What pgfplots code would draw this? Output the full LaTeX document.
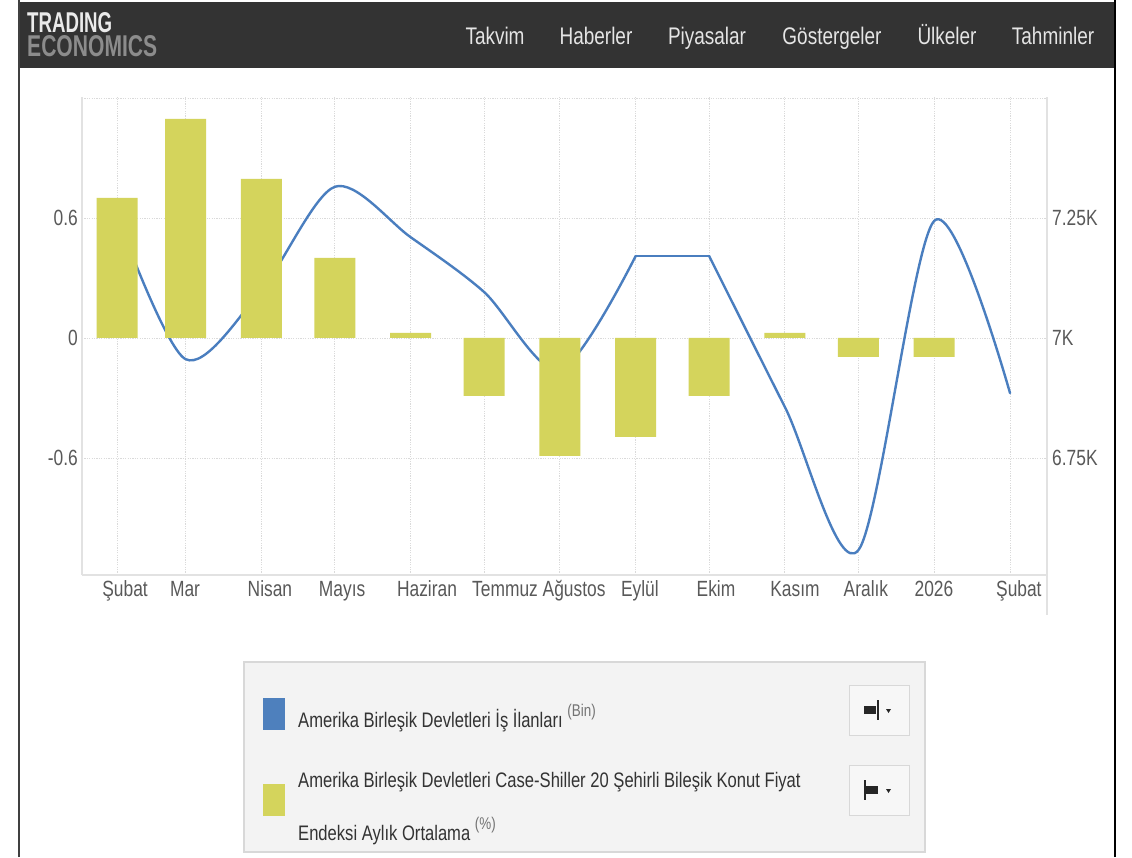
\documentclass[border=0pt]{standalone}
\usepackage{fontspec}
\setmainfont{Liberation Sans}[FakeStretch=0.79]
\usepackage{graphicx}
\usepackage{pgfplots}
\pgfplotsset{compat=1.18}
\usepackage{pgfplotstable}

\definecolor{hdr}{HTML}{333333}
\definecolor{barc}{HTML}{D4D45C}
\definecolor{linec}{HTML}{4A7EBF}
\definecolor{legblue}{HTML}{4E80BD}
\definecolor{tickc}{HTML}{595959}
\definecolor{gridc}{HTML}{DADADA}
\definecolor{framec}{HTML}{E2E2E2}
\definecolor{legtext}{HTML}{333333}
\definecolor{legbg}{HTML}{F3F3F3}
\definecolor{legborder}{HTML}{D8D8D8}

% Job openings (thousands), right axis -- Feb 2025 to Sep 2025
\pgfplotstableread{
x y
0 7255
28 6956
59 7100
89 7315
120 7210
150 7096
181 6933
212 7171
}\jobsA
% Sep 2025 to Oct 2025 (flat)
\pgfplotstableread{
x y
212 7171
242 7171
}\jobsB
% Oct 2025 to Feb 2026
\pgfplotstableread{
x y
242 7171
273 6856
303 6558
334 7244
365 6885
}\jobsC

% Case-Shiller 20-city MoM (%), left axis
\pgfplotstableread{
x y
0 0.70
28 1.095
59 0.795
89 0.40
120 0.025
150 -0.29
181 -0.59
212 -0.495
242 -0.29
273 0.025
303 -0.095
334 -0.095
}\cs

\begin{document}
\begin{tikzpicture}[x=1pt,y=1pt]
\path[use as bounding box, fill=white] (0,0) rectangle (1132,857);
% header
\fill[hdr] (19,789) rectangle (1115,855);
\draw[line width=2pt, black!75] (19,0) -- (19,857);
\draw[line width=2pt, black] (1115,0) -- (1115,857);
\node[anchor=south west, inner sep=0, text=white!92!black] at (27,824.5) {\resizebox{85pt}{20pt}{\bfseries TRADING}};
\node[anchor=south west, inner sep=0, text=black!45] at (27,800) {\resizebox{130pt}{21pt}{\bfseries ECONOMICS}};
\begin{scope}[every node/.style={anchor=base, inner sep=0, text=white!90!black, font=\fontsize{24}{28}\selectfont}]
\node at (495,812) {Takvim};
\node at (596,812) {Haberler};
\node at (707,812) {Piyasalar};
\node at (832,812) {Göstergeler};
\node at (947,812) {Ülkeler};
\node at (1053,812) {Tahminler};
\end{scope}

% right axis with line and grid
\begin{axis}[
  at={(82pt,282pt)}, anchor=south west, scale only axis,
  width=965pt, height=478pt,
  xmin=-14.31, xmax=380.1, ymin=6506.3, ymax=7502.1,
  axis line style={draw=none},
  major tick length=0pt, minor tick length=0pt,
  xtick={3.3,27.8,62.5,92.0,126.7,158.6,186.8,213.7,244.8,277.1,306.1,333.9,368.6},
  xticklabels={Şubat,Mar,Nisan,Mayıs,Haziran,Temmuz,Ağustos,Eylül,Ekim,Kasım,Aralık,2026,Şubat},
  minor xtick={0,28,59,89,120,150,181,212,242,273,303,334,365},
  xminorgrids=true, xmajorgrids=false,
  ytick={6750,7000,7250}, yticklabels={6.75K,7K,7.25K},
  extra y ticks={7500}, extra y tick labels={},
  ymajorgrids=true,
  yticklabel pos=right,
  grid style={gridc, dash pattern=on 1.2pt off 1.2pt, line width=1pt},
  minor grid style={gridc, dash pattern=on 1.2pt off 1.2pt, line width=1pt},
  ticklabel style={font=\fontsize{22}{26}\selectfont, text=tickc},
  xticklabel style={anchor=north, inner sep=0pt, text height=16pt, text depth=5pt, yshift=-5pt},
  yticklabel style={anchor=west, inner sep=0pt, xshift=5pt},
  every axis plot/.append style={line join=round, line cap=round},
]
\addplot[linec, line width=2.4pt, smooth, tension=0.5] table {\jobsA};
\addplot[linec, line width=2.4pt, sharp plot] table {\jobsB};
\addplot[linec, line width=2.4pt, smooth, tension=0.5] table {\jobsC};
\end{axis}

% left axis with bars
\begin{axis}[
  at={(82pt,282pt)}, anchor=south west, scale only axis,
  width=965pt, height=478pt,
  xmin=-14.31, xmax=380.1, ymin=-1.185, ymax=1.205,
  axis line style={draw=none},
  major tick length=0pt,
  xtick=\empty,
  ytick={-0.6,0,0.6}, yticklabels={-0.6,0,0.6},
  ticklabel style={font=\fontsize{22}{26}\selectfont, text=tickc},
  yticklabel style={anchor=east, inner sep=0pt, xshift=-4pt},
]
\addplot[ybar, bar width=41pt, fill=barc, draw=none] table {\cs};
\end{axis}

% plot frame lines
\draw[framec, line width=1.5pt] (82,282) -- (1047,282);
\draw[framec, line width=1.2pt] (82,282) -- (82,760);
\draw[framec, line width=1.2pt] (1047,242) -- (1047,760);

% legend box
\draw[fill=legbg, draw=legborder, line width=1.5pt] (244,5) rectangle (925,195);
\fill[legblue] (263,127) rectangle (285,159);
\fill[barc] (263,41) rectangle (285,73);
\begin{scope}[every node/.style={anchor=base west, inner sep=0, text=legtext, font=\fontsize{21}{25}\selectfont}]
\node at (298,130) {Amerika Birleşik Devletleri İş İlanları \raisebox{11pt}{\fontsize{17}{17}\selectfont\color{black!55}(Bin)}};
\node at (298,70) {Amerika Birleşik Devletleri Case-Shiller 20 Şehirli Bileşik Konut Fiyat};
\node at (298,17) {Endeksi Aylık Ortalama \raisebox{11pt}{\fontsize{17}{17}\selectfont\color{black!55}(\%)}};
\end{scope}
% buttons
\draw[fill=white!97!black, draw=legborder, line width=1pt] (849,122) rectangle (909,172);
\draw[fill=white!97!black, draw=legborder, line width=1pt] (849,42) rectangle (909,92);
\fill[black!85] (864,143) rectangle (876,151);
\fill[black!85] (877,137) rectangle (879,157);
\fill[black!85] (886,148) -- (891,148) -- (888.5,144) -- cycle;
\fill[black!85] (864,57) rectangle (866,77);
\fill[black!85] (866,63) rectangle (878,71);
\fill[black!85] (886,68) -- (891,68) -- (888.5,64) -- cycle;
\end{tikzpicture}
\end{document}
